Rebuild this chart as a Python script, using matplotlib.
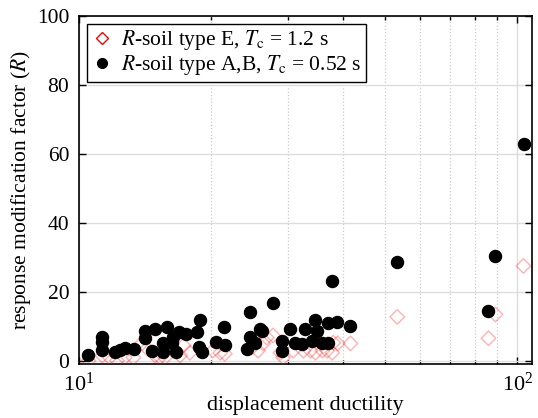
import matplotlib
matplotlib.use("Agg")
import matplotlib.pyplot as plt
from matplotlib.lines import Line2D
from matplotlib.ticker import LogLocator, NullFormatter

plt.rcParams['font.family'] = ['Liberation Serif', 'DejaVu Serif']
plt.rcParams['mathtext.fontset'] = 'stix'

# soil type A,B (black circles)
ab_ductility = [10.5, 11.3, 11.3, 11.3, 12.1, 12.4, 12.7, 13.35, 14.15, 14.15,
                14.9, 15.9, 14.7, 15.5, 15.55, 16.3, 16.4, 16.6, 16.9, 17.5,
                18.6, 18.9, 18.8, 19.1, 20.55, 21.4, 21.5, 24.6, 25.9, 24.6,
                24.2, 25.2, 26.1, 27.7, 29.1, 29.1, 30.3, 31.1, 32.3, 32.8,
                34.6, 34.9, 34.0, 35.9, 37.0, 37.0, 37.8, 38.8, 41.6, 53.2,
                89.1, 85.9, 103.7]
ab_r = [1.5, 7.0, 5.5, 3.0, 2.5, 3.2, 3.8, 3.3, 8.7, 6.7,
        9.3, 9.9, 2.9, 5.0, 2.4, 5.0, 6.8, 2.4, 8.3, 7.8,
        8.3, 11.7, 3.9, 2.4, 5.3, 9.9, 4.4, 14.1, 9.3, 7.0,
        3.4, 5.0, 8.7, 16.8, 5.8, 2.9, 9.3, 5.2, 4.8, 9.3,
        11.7, 8.7, 5.8, 5.2, 5.2, 10.8, 23.0, 11.1, 10.0, 28.6,
        30.5, 14.5, 63.0]

# soil type E (red diamonds)
e_ductility = [10.5, 11.3, 11.75, 12.2, 12.7, 13.3, 13.9, 14.3, 14.9, 15.3,
               15.7, 16.6, 17.3, 17.9, 17.0, 20.2, 21.0, 21.5, 24.8, 25.6,
               26.3, 26.8, 27.7, 28.8, 29.2, 30.8, 32.5, 33.7, 34.6, 35.9,
               36.8, 37.8, 38.0, 38.9, 41.6, 53.2, 85.9, 89.1, 103.2]
e_r = [0.0, 1.5, 0.9, 0.0, 0.9, 0.9, 5.0, 3.5, 1.5, 0.9,
       0.9, 2.9, 4.4, 2.3, 1.5, 2.9, 2.3, 2.0, 3.8, 2.9,
       5.0, 6.7, 7.3, 2.3, 0.9, 2.9, 2.9, 2.9, 2.3, 2.9,
       2.9, 2.3, 5.2, 5.0, 5.0, 12.7, 6.5, 13.4, 27.5]

fig = plt.figure(figsize=(5.38, 4.18), dpi=100)
ax = fig.add_axes([0.147, 0.129, 0.842, 0.832])

ax.scatter(e_ductility, e_r, marker='D', s=55, facecolors='none',
           edgecolors='red', linewidths=1.0, alpha=0.3, zorder=3)
ax.scatter(ab_ductility, ab_r, marker='o', s=75, color='black', zorder=4)

ax.set_xscale('log')
ax.set_xlim(10, 108)
ax.set_ylim(-1, 100)
ax.set_yticks([0, 20, 40, 60, 80, 100])
ax.xaxis.set_major_locator(LogLocator(base=10))
ax.xaxis.set_minor_locator(LogLocator(base=10, subs=range(2, 10)))
ax.xaxis.set_minor_formatter(NullFormatter())

ax.grid(True, which='major', color='#dddddd', linewidth=1.0, zorder=0)
ax.grid(True, which='minor', axis='x', color='#cccccc', linestyle=':', linewidth=0.9)
ax.set_axisbelow(True)

ax.tick_params(which='both', direction='in', top=True, right=True, width=1.0)
ax.tick_params(axis='x', labelsize=16)
ax.tick_params(axis='y', labelsize=15.5)
ax.tick_params(which='major', length=5)
ax.tick_params(which='minor', length=3)
ax.tick_params(axis='x', which='major', pad=6)
ax.tick_params(axis='y', which='major', pad=7)
for s in ax.spines.values():
    s.set_linewidth(1.2)

ax.set_xlabel('displacement ductility', fontsize=16, labelpad=0)
ax.set_ylabel('response modification factor ($R$)', fontsize=15.5, labelpad=3)

handles = [
    Line2D([], [], marker='D', linestyle='none', markerfacecolor='none',
           markeredgecolor='red', markersize=6),
    Line2D([], [], marker='o', linestyle='none', color='black', markersize=7),
]
labels = [r'$R$-soil type E, $T_{\rm c}$ = 1.2 s',
          r'$R$-soil type A,B, $T_{\rm c}$ = 0.52 s']
leg = ax.legend(handles, labels, loc='upper left', fontsize=15.5, fancybox=False,
                framealpha=1, edgecolor='black', handletextpad=0.4,
                borderpad=0.2, labelspacing=0.05, handlelength=1.0,
                borderaxespad=0.35)
leg.get_frame().set_linewidth(1.0)

fig.savefig('out.png', dpi=100)
